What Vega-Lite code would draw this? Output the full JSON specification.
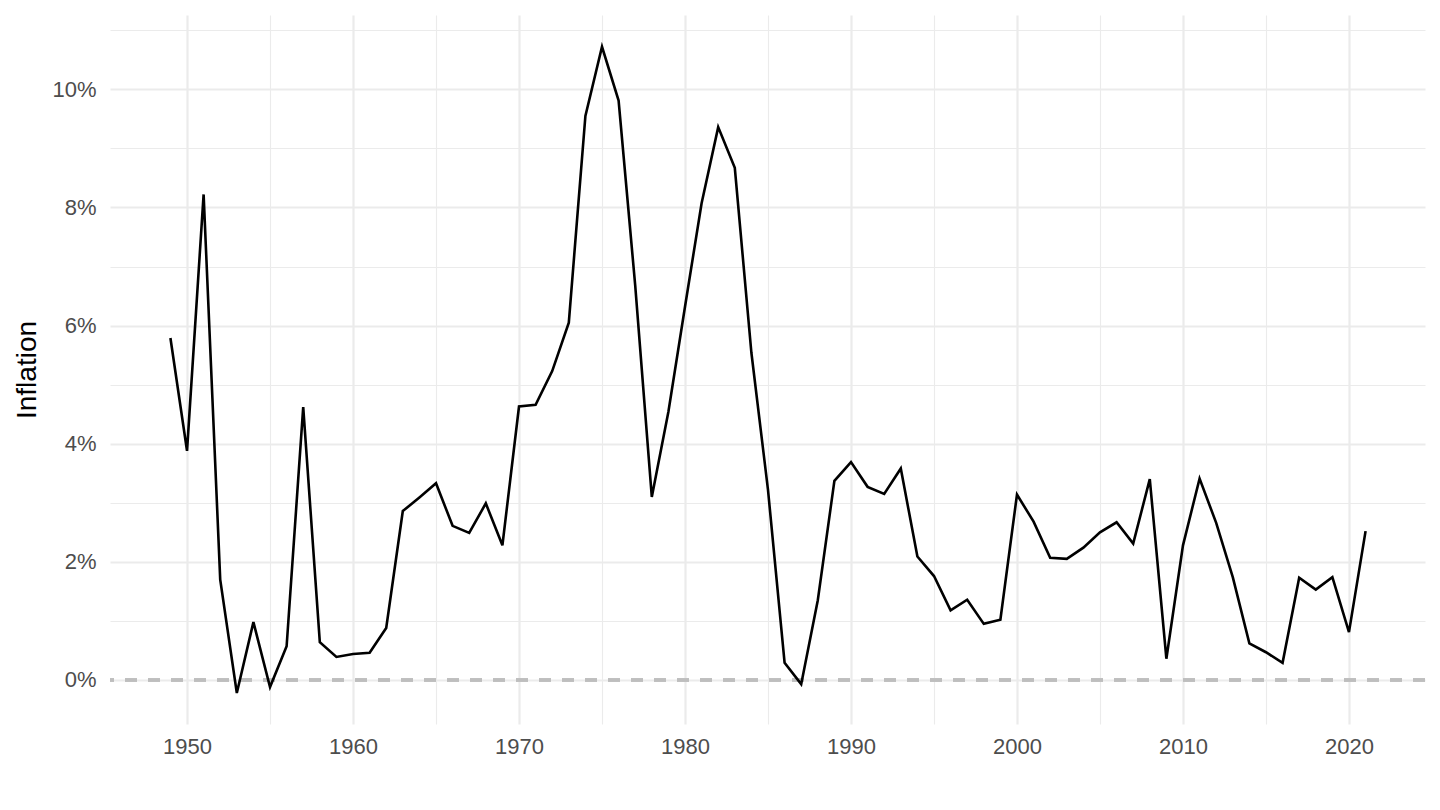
{
  "$schema": "https://vega.github.io/schema/vega-lite/v6.json",
  "width": 1315,
  "height": 709,
  "autosize": {"type": "none"},
  "padding": {"left": 110, "top": 15, "right": 15, "bottom": 86},
  "background": "white",
  "config": {
    "view": {"stroke": null},
    "font": "Liberation Sans",
    "axis": {
      "domain": false,
      "ticks": false,
      "tickSize": 0,
      "grid": true,
      "gridColor": "#EBEBEB",
      "labelColor": "#4D4D4D",
      "labelFont": "Liberation Sans",
      "labelFontSize": 22,
      "titleFont": "Liberation Sans",
      "titleFontSize": 28,
      "titleFontWeight": "normal",
      "titleColor": "#000000"
    }
  },
  "data": {
    "values": [
      {"year": 1949, "inflation": 5.79},
      {"year": 1950, "inflation": 3.88},
      {"year": 1951, "inflation": 8.22},
      {"year": 1952, "inflation": 1.70},
      {"year": 1953, "inflation": -0.22},
      {"year": 1954, "inflation": 0.98},
      {"year": 1955, "inflation": -0.12},
      {"year": 1956, "inflation": 0.57},
      {"year": 1957, "inflation": 4.62},
      {"year": 1958, "inflation": 0.64},
      {"year": 1959, "inflation": 0.39},
      {"year": 1960, "inflation": 0.44},
      {"year": 1961, "inflation": 0.46},
      {"year": 1962, "inflation": 0.88},
      {"year": 1963, "inflation": 2.86},
      {"year": 1964, "inflation": 3.09},
      {"year": 1965, "inflation": 3.33},
      {"year": 1966, "inflation": 2.61},
      {"year": 1967, "inflation": 2.49},
      {"year": 1968, "inflation": 2.99},
      {"year": 1969, "inflation": 2.28},
      {"year": 1970, "inflation": 4.63},
      {"year": 1971, "inflation": 4.66},
      {"year": 1972, "inflation": 5.23},
      {"year": 1973, "inflation": 6.05},
      {"year": 1974, "inflation": 9.55},
      {"year": 1975, "inflation": 10.72},
      {"year": 1976, "inflation": 9.81},
      {"year": 1977, "inflation": 6.68},
      {"year": 1978, "inflation": 3.10},
      {"year": 1979, "inflation": 4.54},
      {"year": 1980, "inflation": 6.32},
      {"year": 1981, "inflation": 8.07},
      {"year": 1982, "inflation": 9.36},
      {"year": 1983, "inflation": 8.67},
      {"year": 1984, "inflation": 5.54},
      {"year": 1985, "inflation": 3.22},
      {"year": 1986, "inflation": 0.29},
      {"year": 1987, "inflation": -0.07},
      {"year": 1988, "inflation": 1.35},
      {"year": 1989, "inflation": 3.37},
      {"year": 1990, "inflation": 3.69},
      {"year": 1991, "inflation": 3.27},
      {"year": 1992, "inflation": 3.15},
      {"year": 1993, "inflation": 3.58},
      {"year": 1994, "inflation": 2.09},
      {"year": 1995, "inflation": 1.76},
      {"year": 1996, "inflation": 1.18},
      {"year": 1997, "inflation": 1.36},
      {"year": 1998, "inflation": 0.95},
      {"year": 1999, "inflation": 1.02},
      {"year": 2000, "inflation": 3.14},
      {"year": 2001, "inflation": 2.68},
      {"year": 2002, "inflation": 2.07},
      {"year": 2003, "inflation": 2.05},
      {"year": 2004, "inflation": 2.24},
      {"year": 2005, "inflation": 2.50},
      {"year": 2006, "inflation": 2.67},
      {"year": 2007, "inflation": 2.31},
      {"year": 2008, "inflation": 3.40},
      {"year": 2009, "inflation": 0.36},
      {"year": 2010, "inflation": 2.28},
      {"year": 2011, "inflation": 3.41},
      {"year": 2012, "inflation": 2.66},
      {"year": 2013, "inflation": 1.74},
      {"year": 2014, "inflation": 0.62},
      {"year": 2015, "inflation": 0.47},
      {"year": 2016, "inflation": 0.29},
      {"year": 2017, "inflation": 1.73},
      {"year": 2018, "inflation": 1.53},
      {"year": 2019, "inflation": 1.74},
      {"year": 2020, "inflation": 0.81},
      {"year": 2021, "inflation": 2.52}
    ]
  },
  "layer": [
    {
      "mark": {"type": "rule", "stroke": "#BEBEBE", "strokeWidth": 2.5, "strokeDash": [12, 11], "strokeCap": "butt"},
      "encoding": {
        "y": {
          "datum": 0,
          "type": "quantitative",
          "scale": {"domain": [-0.745, 11.258], "nice": false, "zero": false},
          "axis": {
            "title": "Inflation",
            "grid": true,
            "values": [0, 1, 2, 3, 4, 5, 6, 7, 8, 9, 10, 11],
            "labelExpr": "datum.value % 2 == 0 ? datum.value + '%' : ''",
            "labelPadding": 14,
            "titlePadding": 10,
            "gridWidth": {"condition": {"test": "datum.value % 2 == 0", "value": 2.2}, "value": 1.1}
          }
        }
      }
    },
    {
      "mark": {"type": "line", "color": "#000000", "strokeWidth": 2.6},
      "encoding": {
        "x": {
          "field": "year",
          "type": "quantitative",
          "scale": {"domain": [1945.36, 2024.58], "nice": false, "zero": false},
          "axis": {
            "title": null,
            "grid": true,
            "values": [1950, 1955, 1960, 1965, 1970, 1975, 1980, 1985, 1990, 1995, 2000, 2005, 2010, 2015, 2020],
            "labelExpr": "datum.value % 10 == 0 ? '' + datum.value : ''",
            "labelPadding": 12,
            "gridWidth": {"condition": {"test": "datum.value % 10 == 0", "value": 2.2}, "value": 1.1}
          }
        },
        "y": {
          "field": "inflation",
          "type": "quantitative",
          "scale": {"domain": [-0.745, 11.258], "nice": false, "zero": false},
          "axis": {
            "title": "Inflation",
            "grid": true,
            "values": [0, 1, 2, 3, 4, 5, 6, 7, 8, 9, 10, 11],
            "labelExpr": "datum.value % 2 == 0 ? datum.value + '%' : ''",
            "labelPadding": 14,
            "titlePadding": 10,
            "gridWidth": {"condition": {"test": "datum.value % 2 == 0", "value": 2.2}, "value": 1.1}
          }
        }
      }
    }
  ]
}
